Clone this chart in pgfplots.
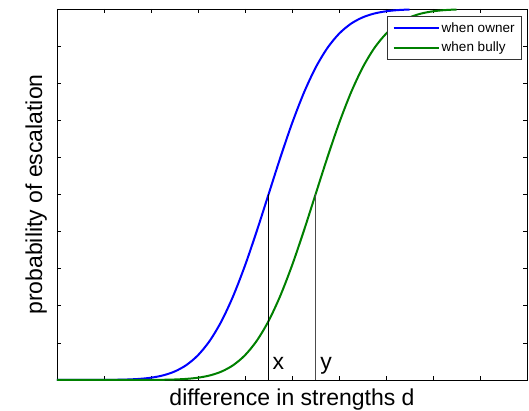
\documentclass[border=0pt]{standalone}
\usepackage{pgfplots}
\pgfplotsset{compat=1.18}
\usepackage{fontspec}
\setmainfont{Liberation Sans}
\definecolor{mblue}{RGB}{0,0,255}
\definecolor{mgreen}{RGB}{0,128,0}
\begin{document}
\begin{tikzpicture}
\begin{axis}[
  scale only axis,
  width=470pt, height=371pt,
  xmin=0, xmax=10, ymin=0, ymax=1,
  xtick={0,1,...,10}, ytick={0,0.1,...,1},
  xticklabels={}, yticklabels={},
  tick align=inside,
  major tick length=4pt,
  tick style={black, line width=0.6pt},
  axis line style={black, line width=0.8pt},
  xlabel={difference in strengths d},
  ylabel={probability of escalation},
  label style={font=\fontsize{23}{27}\selectfont},
  xlabel style={at={(axis description cs:0.5,-0.068)}, anchor=base},
  ylabel style={at={(axis description cs:-0.0319,0.5)}, anchor=base},
  legend style={at={(rel axis cs:0.989,0.981)}, anchor=north east,
    font=\fontsize{13.5}{16}\selectfont, draw=black!80, line width=0.6pt,
    row sep=4.5pt, inner xsep=5pt, inner ysep=4pt},
  legend cell align=left,
  legend image code/.code={\draw[#1, line width=2pt] (0pt,0pt) -- (45pt,0pt);},
  clip=false,
]
\addplot[mblue, line width=2pt, smooth] coordinates {
(0,0.0000034)(0.25,0.0000107)(0.5,0.0000317)(0.75,0.0000884)(1,0.000233)(1.25,0.000577)
(1.5,0.00135)(1.75,0.00298)(2,0.00621)(2.25,0.01222)(2.5,0.02275)(2.75,0.04006)
(3,0.06681)(3.25,0.10565)(3.5,0.15866)(3.75,0.22663)(4,0.30854)(4.25,0.40129)
(4.5,0.5)(4.75,0.59871)(5,0.69146)(5.25,0.77337)(5.5,0.84134)(5.75,0.89435)
(6,0.93319)(6.25,0.95994)(6.5,0.97725)(6.75,0.98778)(7,0.99379)(7.25,0.99702)(7.5,0.99865)
};
\addlegendentry{when owner}
\addplot[mgreen, line width=2pt, smooth] coordinates {
(0,0)(0.5,0.0000003)(1,0.0000034)(1.25,0.0000107)(1.5,0.0000317)(1.75,0.0000884)(2,0.000233)(2.25,0.000577)
(2.5,0.00135)(2.75,0.00298)(3,0.00621)(3.25,0.01222)(3.5,0.02275)(3.75,0.04006)
(4,0.06681)(4.25,0.10565)(4.5,0.15866)(4.75,0.22663)(5,0.30854)(5.25,0.40129)
(5.5,0.5)(5.75,0.59871)(6,0.69146)(6.25,0.77337)(6.5,0.84134)(6.75,0.89435)
(7,0.93319)(7.25,0.95994)(7.5,0.97725)(7.75,0.98778)(8,0.99379)(8.25,0.99702)(8.5,0.99865)
};
\addlegendentry{when bully}
\addplot[black, line width=0.8pt, forget plot] coordinates {(4.5,0)(4.5,0.5)};
\addplot[black!70, line width=0.8pt, forget plot] coordinates {(5.5,0)(5.5,0.5)};
\node[anchor=base west, font=\fontsize{23}{27}\selectfont, inner sep=0pt] at (axis cs:4.585,0.027) {x};
\node[anchor=base west, font=\fontsize{23}{27}\selectfont, inner sep=0pt] at (axis cs:5.6,0.027) {y};
\end{axis}
\pgfresetboundingbox
\path (current axis.south west) ++(-57pt,-31pt) rectangle ([shift={(2pt,9pt)}]current axis.north east);
\end{tikzpicture}
\end{document}
